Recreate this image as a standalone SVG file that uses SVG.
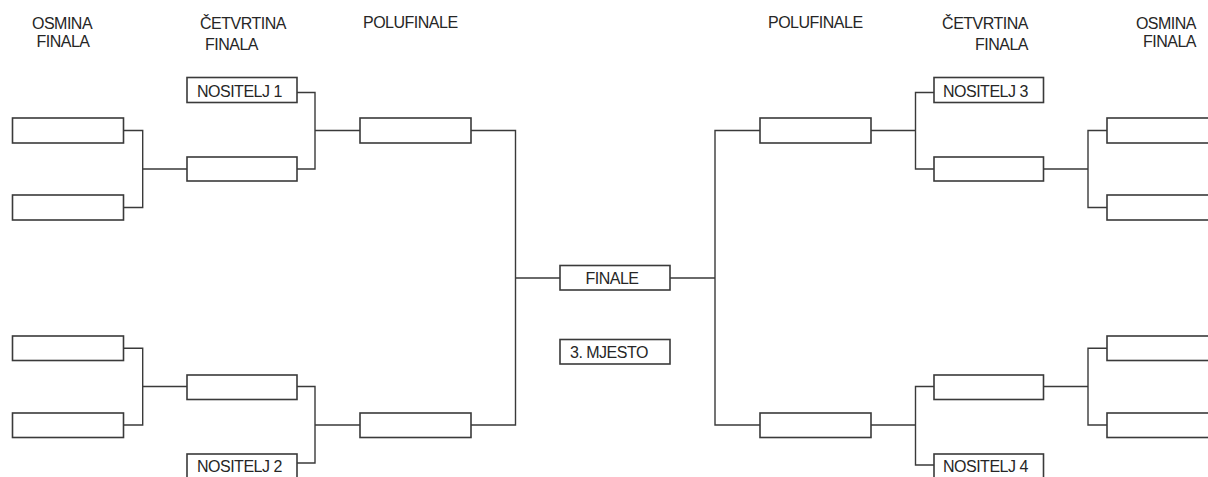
<svg xmlns="http://www.w3.org/2000/svg" width="1208" height="477" viewBox="0 0 1208 477">
<style>
.box{fill:#fff;stroke:#3a3a3a;stroke-width:1.6}
.ln{fill:none;stroke:#3a3a3a;stroke-width:1.4}
text{font-family:"Liberation Sans",Arial,sans-serif;font-size:16px;fill:#262626;letter-spacing:-0.5px}
</style>
<rect width="1208" height="477" fill="#fff"/>
<g id="headers">
<text x="62" y="29" text-anchor="middle">OSMINA</text>
<text x="63" y="47" text-anchor="middle">FINALA</text>
<text x="200" y="29">ČETVRTINA</text>
<text x="205" y="50">FINALA</text>
<text x="363" y="28">POLUFINALE</text>
<text x="768" y="28">POLUFINALE</text>
<text x="1028" y="29" text-anchor="end">ČETVRTINA</text>
<text x="1028" y="50" text-anchor="end">FINALA</text>
<text x="1196" y="29" text-anchor="end">OSMINA</text>
<text x="1196" y="47" text-anchor="end">FINALA</text>
</g>
<g id="connectors">
<path class="ln" d="M123.7 130.5H142.7V207.5H123.7M142.7 169H187"/>
<path class="ln" d="M297 92.5H315V169H297M315 130.5H360"/>
<path class="ln" d="M123.7 348.3H142.7V425H123.7M142.7 386.5H187"/>
<path class="ln" d="M297 386.5H315V463H297M315 425H360"/>
<path class="ln" d="M471 130.5H515.5V425H471M515.5 278H560"/>
<path class="ln" d="M1107 130.5H1088V207.5H1107M1088 169H1043"/>
<path class="ln" d="M934 92.5H915.5V169H934M915.5 130.5H871"/>
<path class="ln" d="M1107 348.3H1088V425H1107M1088 386.5H1043"/>
<path class="ln" d="M934 386.5H915.5V465H934M915.5 425H871"/>
<path class="ln" d="M760 130.5H715V425H760M715 278H670"/>
</g>
<g id="osmina-l1"><rect class="box" x="12.5" y="118" width="111" height="25"/></g>
<g id="osmina-l2"><rect class="box" x="12.5" y="195" width="111" height="25"/></g>
<g id="osmina-l3"><rect class="box" x="12.5" y="336" width="111" height="24.5"/></g>
<g id="osmina-l4"><rect class="box" x="12.5" y="413" width="111" height="24.5"/></g>
<g id="nositelj1"><rect class="box" x="187" y="77.5" width="110" height="25"/><text x="197" y="96.5">NOSITELJ 1</text></g>
<g id="cetvrt-l1"><rect class="box" x="187" y="157" width="110" height="24"/></g>
<g id="cetvrt-l2"><rect class="box" x="187" y="375" width="110" height="24.5"/></g>
<g id="nositelj2"><rect class="box" x="187" y="454" width="110" height="30"/><text x="197" y="472">NOSITELJ 2</text></g>
<g id="polu-l1"><rect class="box" x="360" y="118" width="111" height="25"/></g>
<g id="polu-l2"><rect class="box" x="360" y="413" width="111" height="24.5"/></g>
<g id="finale"><rect class="box" x="560" y="265.5" width="110" height="24.5"/><text x="612" y="284" text-anchor="middle">FINALE</text></g>
<g id="mjesto3"><rect class="box" x="560" y="339.5" width="110" height="24.5"/><text x="570" y="357.5">3. MJESTO</text></g>
<g id="polu-r1"><rect class="box" x="760" y="118" width="111" height="25"/></g>
<g id="polu-r2"><rect class="box" x="760" y="413" width="111" height="24.5"/></g>
<g id="nositelj3"><rect class="box" x="934" y="77.5" width="109.5" height="25"/><text x="943" y="96.5">NOSITELJ 3</text></g>
<g id="cetvrt-r1"><rect class="box" x="934" y="157" width="109.5" height="24"/></g>
<g id="cetvrt-r2"><rect class="box" x="934" y="375" width="109.5" height="24.5"/></g>
<g id="nositelj4"><rect class="box" x="934" y="454" width="109.5" height="30"/><text x="943" y="472">NOSITELJ 4</text></g>
<g id="osmina-r1"><rect class="box" x="1107" y="118" width="110" height="25"/></g>
<g id="osmina-r2"><rect class="box" x="1107" y="195" width="110" height="25"/></g>
<g id="osmina-r3"><rect class="box" x="1107" y="336" width="110" height="24.5"/></g>
<g id="osmina-r4"><rect class="box" x="1107" y="413" width="110" height="24.5"/></g>
</svg>
